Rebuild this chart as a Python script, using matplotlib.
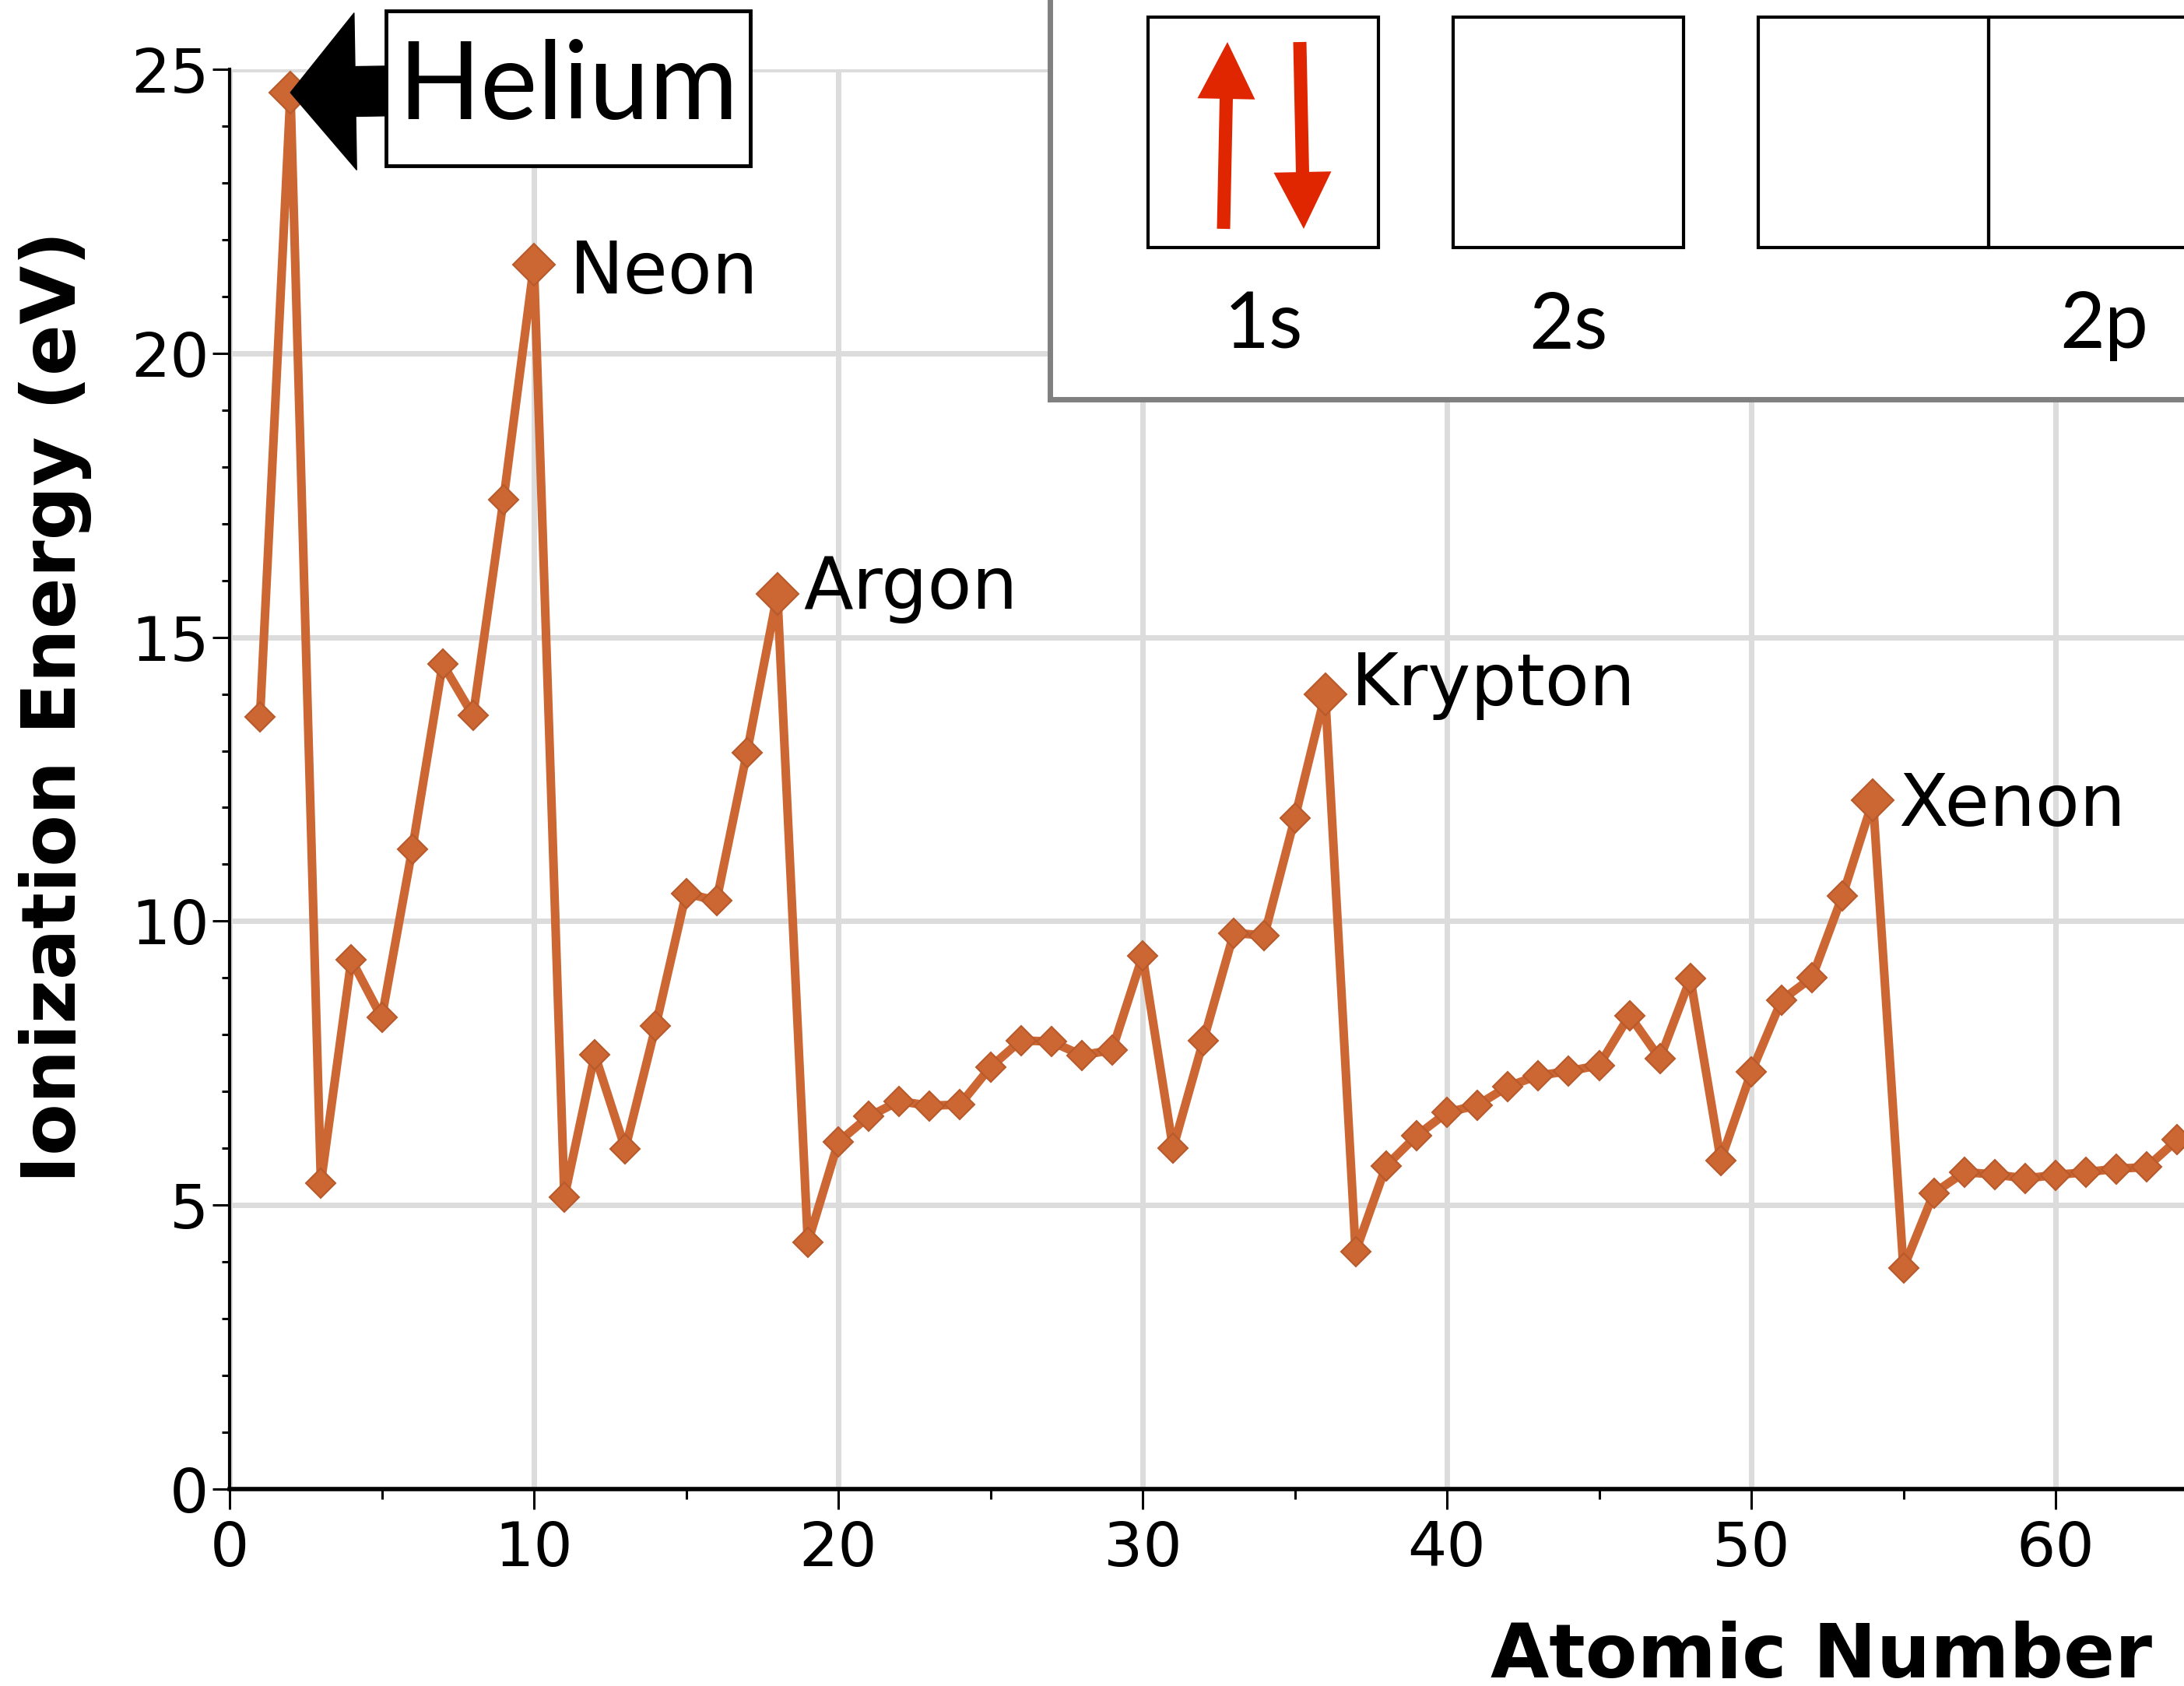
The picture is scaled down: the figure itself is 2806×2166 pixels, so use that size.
import matplotlib
matplotlib.use('Agg')
import matplotlib.pyplot as plt
from matplotlib.patches import Rectangle, FancyArrow
from matplotlib.path import Path
from matplotlib.ticker import MultipleLocator

# first ionization energies (eV) by atomic number
atomic_number = list(range(1, 66))
ionization_ev = [13.60, 24.59, 5.39, 9.32, 8.30, 11.26, 14.53, 13.62, 17.42, 21.56,
                 5.14, 7.65, 5.99, 8.15, 10.49, 10.36, 12.97, 15.76,
                 4.34, 6.11, 6.56, 6.83, 6.75, 6.77, 7.43, 7.90, 7.88, 7.64, 7.73,
                 9.39, 6.00, 7.90, 9.79, 9.75, 11.81, 14.00,
                 4.18, 5.69, 6.22, 6.63, 6.76, 7.09, 7.28, 7.36, 7.46, 8.34, 7.58,
                 8.99, 5.79, 7.34, 8.61, 9.01, 10.45, 12.13,
                 3.89, 5.21, 5.58, 5.54, 5.47, 5.53, 5.58, 5.64, 5.67, 6.15, 5.86]

noble_names = ['Helium', 'Neon', 'Argon', 'Krypton', 'Xenon']
noble_z = [2, 10, 18, 36, 54]
# label offsets in points (hand placed in the original)
label_offsets = [None, (33, -8), (24, 5), (24, 8), (24, -5)]

orbital_labels = ['1s', '2s', '2p']
orbital_slots = [1, 1, 3]
orbital_electrons = [2, 0, 0]

W, H = 2806, 2166
ORANGE = '#cc6633'
EDGE = '#b85a2c'
RED = '#e02600'


def helium_box(x0, y0, width, height, mutation_size):
    # plain rectangle, wider padding vertically than horizontally (pixels)
    px, py = 15, 36
    x0, y0 = x0 - px, y0 - py
    x1, y1 = x0 + width + 2 * px, y0 + height + 2 * py
    return Path([(x0, y0), (x1, y0), (x1, y1), (x0, y1), (x0, y0)], closed=True)


fig = plt.figure(figsize=(W / 100, H / 100), dpi=100)
ax = fig.add_axes([295 / W, 1 - 1913 / H, 1 - 295 / W, 1824 / H])

ax.plot(atomic_number, ionization_ev, color=ORANGE, lw=8, marker='D', ms=19.5,
        mfc=ORANGE, mec=EDGE, mew=1.5, clip_on=False, zorder=3)
noble_ev = [ionization_ev[z - 1] for z in noble_z]
ax.plot(noble_z, noble_ev, ls='none', marker='D', ms=27, mfc=ORANGE,
        mec=EDGE, mew=1.5, clip_on=False, zorder=3)

ax.set_xlim(0, (W - 295) / 39.1)
ax.set_ylim(0, 25)
ax.xaxis.set_major_locator(MultipleLocator(10))
ax.xaxis.set_minor_locator(MultipleLocator(5))
ax.yaxis.set_major_locator(MultipleLocator(5))
ax.yaxis.set_minor_locator(MultipleLocator(1))
ax.grid(True, which='major', color='#dcdcdc', lw=5)
ax.set_axisbelow(True)

for s in ['top', 'right']:
    ax.spines[s].set_visible(False)
ax.spines['left'].set_linewidth(3)
ax.spines['bottom'].set_linewidth(4)
ax.tick_params(axis='x', which='major', length=19, width=2.2, pad=9, labelsize=57)
ax.tick_params(axis='x', which='minor', length=9, width=2.2)
ax.tick_params(axis='y', which='major', length=16, width=2.2, pad=3, labelsize=57)
ax.tick_params(axis='y', which='minor', length=7, width=2.2)

ax.set_xlabel('Atomic Number', fontsize=70, fontweight='bold', ha='right', va='top')
ax.xaxis.set_label_coords((2765 - 295) / (W - 295), -0.0927)
ax.set_ylabel('Ionization Energy (eV)', fontsize=70, fontweight='bold')
ax.yaxis.set_label_coords(-0.0705, 0.551)

# noble gas labels
for name, z, ev, off in zip(noble_names[1:], noble_z[1:], noble_ev[1:],
                            label_offsets[1:]):
    ax.annotate(name, xy=(z, ev), xytext=off, textcoords='offset points',
                fontsize=67, va='center', ha='left')

# helium call-out box with arrow
ax.annotate(noble_names[0], xy=(noble_z[0], noble_ev[0]), xytext=(730, H - 113),
            textcoords='figure pixels', ha='center', va='center',
            fontsize=100, family='Lato', zorder=5,
            bbox=dict(boxstyle=helium_box, fc='white', ec='black', lw=3.5),
            arrowprops=dict(arrowstyle='simple,head_length=0.6,head_width=1.45,tail_width=0.46',
                            mutation_scale=100, fc='black', ec='black',
                            shrinkA=0, shrinkB=0))

# orbital diagram inset (coordinates in figure pixels, y down)
ins = fig.add_axes([1349 / W, (H - 513) / H, (3100 - 1349) / W, 613 / H], zorder=6)
ins.set_xlim(1349, 3100)
ins.set_ylim(513, -100)
ins.set_xticks([])
ins.set_yticks([])
for s in ins.spines.values():
    s.set_color('#808080')
    s.set_linewidth(5)

box = 296
x = 1475
for label, slots, electrons in zip(orbital_labels, orbital_slots, orbital_electrons):
    for k in range(slots):
        ins.add_patch(Rectangle((x + k * box, 22), box, box, fill=False,
                                ec='black', lw=3))
    if electrons >= 1:
        ins.add_patch(FancyArrow(x + 97, 294, 5, -240, width=17, head_width=74,
                                 head_length=73, length_includes_head=True,
                                 color=RED, lw=0))
    if electrons >= 2:
        ins.add_patch(FancyArrow(x + 195, 54, 5, 240, width=17, head_width=74,
                                 head_length=73, length_includes_head=True,
                                 color=RED, lw=0))
    ins.text(x + slots * box / 2, 447, label, ha='center', va='baseline',
             fontsize=72, family='Lato')
    x += slots * box + 96

fig.savefig('out.png', dpi=100)
